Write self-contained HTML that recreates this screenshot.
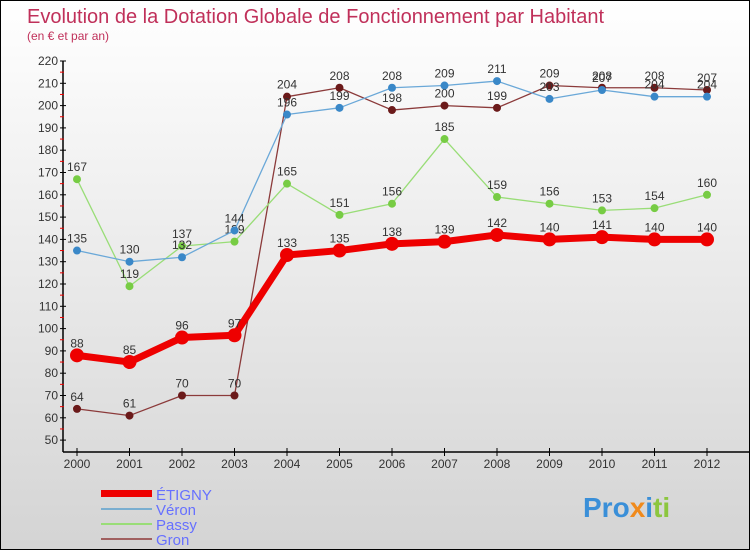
<!DOCTYPE html>
<html><head><meta charset="utf-8"><style>
body{margin:0;width:750px;height:550px;overflow:hidden;font-family:"Liberation Sans",sans-serif}
#wrap{position:relative;width:748px;height:548px;border:1px solid #000;background:linear-gradient(#ffffff,#d4d4d4)}
</style></head><body>
<div id="wrap">
<svg id="chart" width="748" height="548" style="position:absolute;left:0;top:0">
<text x="26" y="22" font-size="20" fill="#c0305a">Evolution de la Dotation Globale de Fonctionnement par Habitant</text>
<text x="26" y="39" font-size="12" fill="#c0305a">(en € et par an)</text>
<g id="axes"></g><g id="series"></g>
<g>
<rect x="100" y="489" width="51" height="7" fill="#e00"/>
<text x="155" y="499" font-size="15" fill="#6670ff">ÉTIGNY</text>
<line x1="100" y1="508" x2="151" y2="508" stroke="#7aaed0" stroke-width="2"/>
<text x="155" y="514" font-size="15" fill="#6670ff">Véron</text>
<line x1="100" y1="523" x2="151" y2="523" stroke="#99dd77" stroke-width="2"/>
<text x="155" y="529" font-size="15" fill="#6670ff">Passy</text>
<line x1="100" y1="538" x2="151" y2="538" stroke="#a06060" stroke-width="2"/>
<text x="155" y="544" font-size="15" fill="#6670ff">Gron</text>
</g>
<text x="582" y="516" font-size="28" font-weight="bold"><tspan fill="#3a8fd8">Pro</tspan><tspan fill="#f08a1c">x</tspan><tspan fill="#3a8fd8">i</tspan><tspan fill="#8cc63f">ti</tspan></text>
</svg></div>
<script>
const years=[2000,2001,2002,2003,2004,2005,2006,2007,2008,2009,2010,2011,2012];
const etigny=[88,85,96,97,133,135,138,139,142,140,141,140,140];
const veron=[135,130,132,144,196,199,208,209,211,203,207,204,204];
const passy=[167,119,137,139,165,151,156,185,159,156,153,154,160];
const gron=[64,61,70,70,204,208,198,200,199,209,208,208,207];
const yTicks=[50,60,70,80,90,100,110,120,130,140,150,160,170,180,190,200,210,220];
const NS="http://www.w3.org/2000/svg";
const x=i=>76+i*52.5;
const y=v=>60+(220-v)*2.23;
function mk(tag,attrs,parent){const e=document.createElementNS(NS,tag);for(const k in attrs)e.setAttribute(k,attrs[k]);parent.appendChild(e);return e;}
const ax=document.getElementById('axes');
let l=mk('line',{x1:62,y1:y(220),x2:62,y2:451,stroke:'#000','stroke-width':1.5},ax);


l=mk('line',{x1:62,y1:451,x2:748,y2:451,stroke:'#000','stroke-width':1.5},ax);


yTicks.forEach((v,i)=>{
 mk('line',{x1:59,y1:y(v),x2:65,y2:y(v),stroke:'#000'},ax);
 if(i<yTicks.length-1) mk('line',{x1:59,y1:y(v+5),x2:63,y2:y(v+5),stroke:'#e00'},ax);
 const t=mk('text',{x:57,y:y(v)+4,'font-size':12,fill:'#333','text-anchor':'end'},ax);
 t.textContent=v;
 
 
});
years.forEach((yr,i)=>{
 mk('line',{x1:x(i),y1:447,x2:x(i),y2:455,stroke:'#000'},ax);
 const t=mk('text',{x:x(i),y:467,'font-size':12,fill:'#333','text-anchor':'middle'},ax);
 t.textContent=yr;
 
 
});
const sg=document.getElementById('series');
function draw(name,data,color,dot,w,r){
 const g=mk('g',{},sg);
 
 
 const p=mk('polyline',{points:data.map((v,i)=>x(i)+','+y(v)).join(' '),fill:'none',stroke:color,'stroke-width':w,'stroke-linejoin':'round'},g);
 
 
 data.forEach((v,i)=>{
  const c=mk('circle',{cx:x(i),cy:y(v),r:r,fill:dot},g);
  
  
  const t=mk('text',{x:x(i),y:y(v)-8,'font-size':12,fill:'#333','text-anchor':'middle'},g);
  t.textContent=v;
  
  
 });
}
draw('gron',gron,'#8b3a3a','#6b1a1a',1.3,4);
draw('passy',passy,'#99dd77','#77cc44',1.3,4);
draw('veron',veron,'#6aa8d8','#3a88c8',1.3,4);
draw('etigny',etigny,'#ee0000','#ee0000',7,7);
</script>
</body></html>
